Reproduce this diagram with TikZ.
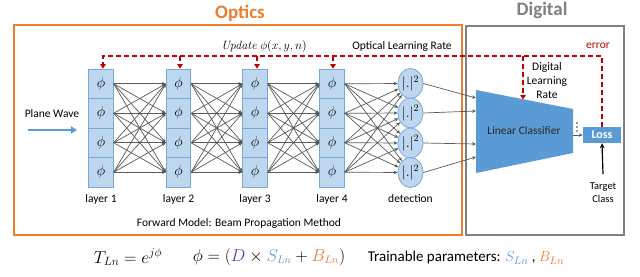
\documentclass[tikz,border=0pt]{standalone}
\usepackage[no-math]{fontspec}
\setmainfont{Carlito}
\usetikzlibrary{arrows.meta,shapes.geometric}
\definecolor{orng}{HTML}{ED7D31}
\definecolor{dgray}{HTML}{808080}
\definecolor{cellf}{HTML}{BDD7EE}
\definecolor{cellb}{HTML}{7BA7D7}
\definecolor{conng}{HTML}{5A5A5A}
\definecolor{errred}{HTML}{C00000}
\definecolor{midblue}{HTML}{5B9BD5}
\definecolor{purp}{HTML}{7030A0}
\begin{document}
\begin{tikzpicture}[x=1pt,y=-1pt,
  cell/.style={draw=cellb, fill=cellf, minimum width=24.5pt, minimum height=29.5pt, inner sep=0pt, line width=0.8pt, font=\fontsize{14}{16}\selectfont},
  det/.style={ellipse, draw=cellb, fill=cellf, minimum width=25pt, minimum height=30pt, inner sep=0pt, line width=0.8pt, font=\fontsize{14}{16}\selectfont},
  conn/.style={draw=conng, line width=0.7pt, -{Stealth[length=4pt,width=3.5pt]}},
  reddash/.style={draw=errred, line width=1.6pt, dash pattern=on 5pt off 3pt},
  redtip/.style={-{Triangle[length=4.5pt,width=5.5pt]}},
  lbl/.style={font=\fontsize{11.5}{13}\selectfont, inner sep=0pt},
]
\useasboundingbox (0,0) rectangle (640,276);
\fill[white] (0,0) rectangle (640,276);

% boxes and titles
\draw[orng, line width=2.6pt] (14,25) rectangle (462,235);
\draw[dgray, line width=2.6pt] (466,26) rectangle (624,235);
\node[font=\fontsize{19}{21}\selectfont\bfseries, text=orng] (optics) at (240,13) {Optics};
\node[font=\fontsize{19}{21}\selectfont\bfseries, text=dgray] (digital) at (542,10) {Digital};

% layers
\foreach \k/\x in {1/101,2/178.5,3/255,4/332}{
  \foreach \i/\y in {1/83.75,2/113.25,3/142.75,4/172.25}{
    \node[cell] (L\k c\i) at (\x,\y) {$\phi$};
  }
  \node[lbl] (lab\k) at (\x,199) {layer \k};
}
% detection
\foreach \i/\y in {1/83.5,2/113,3/143,4/172.5}{
  \node[det] (D\i) at (410.5,\y) {$|.|^2$};
}
\node[lbl] (labdet) at (410.5,199) {detection};

% full connections
\foreach \k/\n in {1/2,2/3,3/4}{
  \foreach \i in {1,...,4}{
    \foreach \j in {1,...,4}{
      \draw[conn] (L\k c\i.east) -- (L\n c\j.west);
    }
  }
}
\foreach \i in {1,...,4}{
  \foreach \j in {1,...,4}{
    \draw[conn] (L4c\i.east) -- (D\j);
  }
}

% plane wave
\node[lbl] (pw) at (52,114) {Plane Wave};
\coordinate (pwA) at (28,130);
\coordinate (pwB) at (77,130);
\draw[midblue, line width=2.4pt, -{Triangle[length=6pt,width=7pt]}] (pwA) -- (pwB);

% forward model
\node[lbl] (fm) at (239,223) {Forward Model: Beam Propagation Method};

% linear classifier trapezoid
\coordinate (tA) at (476,90);
\coordinate (tB) at (573,109);
\coordinate (tC) at (573,153);
\coordinate (tD) at (476,173);
\fill[midblue] (tA) -- (tB) -- (tC) -- (tD) -- cycle;
\node[lbl, text=black!85] (lc) at (524,131) {Linear Classifier};
\foreach \i/\y in {1/98,2/111,3/144,4/157}{
  \coordinate (T\i) at (476,\y);
  \draw[conn] (D\i.east) -- (T\i);
}
% dots
\foreach \y in {123,127,131}{\fill[black!80] (577,\y) circle (0.9pt);}
% loss
\node[fill=midblue, minimum width=38pt, minimum height=16pt, inner sep=0pt, text=white, font=\fontsize{12}{13}\selectfont\bfseries] (loss) at (602,135) {Loss};
\coordinate (tR) at (573,135);
\draw[conn] (tR) -- (loss.west);
% target class
\node[font=\fontsize{10.5}{13}\selectfont, align=center, inner sep=0pt] (tc) at (603,192.5) {Target\\Class};
\coordinate (tcTop) at (603,174);
\draw[black, line width=1.2pt, -{Stealth[length=5pt,width=4.5pt]}] (tcTop) -- (loss.south);

% red dashed update line
\coordinate (rl) at (103,56);
\draw[reddash, redtip] (loss.north) |- (rl) -- (rl |- L1c1.north);
\foreach \k/\x in {2/180,3/257,4/333}{
  \coordinate (r\k) at (\x,56);
  \draw[reddash, redtip] (r\k) -- (r\k |- L\k c1.north);
}
\coordinate (rd) at (523,56);
\coordinate (rdE) at (523,99.5);
\draw[reddash, redtip] (rd) -- (rdE);

\node[font=\fontsize{12}{14}\selectfont, inner sep=0pt] (upd) at (264,46) {$\mathit{Update}\ \phi(x,y,n)$};
\node[lbl] (olr) at (402,46) {Optical Learning Rate};
\node[lbl, text=errred] (err) at (598,46) {error};
\node[lbl, align=center, font=\fontsize{11.5}{14}\selectfont] (dlr) at (547,81) {Digital\\Learning\\Rate};

% formulas
\node[font=\fontsize{18}{20}\selectfont, inner sep=0pt] (f1) at (128,257) {$T_{Ln} = e^{j\phi}$};
\node[font=\fontsize{16}{18}\selectfont, inner sep=0pt] (f2) at (269,257) {$\phi = (\textcolor{purp}{D} \times \textcolor{midblue}{S_{Ln}} + \textcolor{orng}{B_{Ln}})$};
\node[font=\fontsize{15}{18}\selectfont, inner sep=0pt] (f3) at (466,258) {Trainable parameters: $\textcolor{midblue}{S_{Ln}}$ , $\textcolor{orng}{B_{Ln}}$};
\end{tikzpicture}
\end{document}
